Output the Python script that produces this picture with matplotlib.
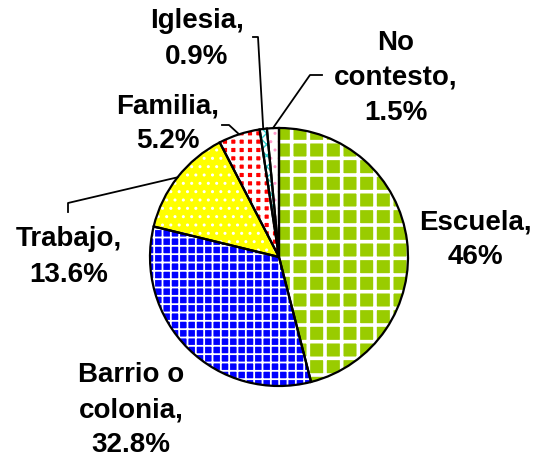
import numpy as np
import matplotlib.pyplot as plt

# datos
categorias = ["Escuela", "Barrio o\ncolonia", "Trabajo", "Familia", "Iglesia", "No\ncontesto"]
porcentajes = [46, 32.8, 13.6, 5.2, 0.9, 1.5]
etiquetas_pct = ["46%", "32.8%", "13.6%", "5.2%", "0.9%", "1.5%"]

fondos = ["#99cc00", "#0000ff", "#ffff00", "#ff0000", "#ffffff", "#ffffff"]
tramas = ["+", "++", "..", "++", "xxx", ".."]
color_trama = ["#ffffff", "#ffffff", "#ffffff", "#ffffff", "#33cccc", "#ff99cc"]
grosor_trama = [2.6, 1.3, 1.0, 3.0, 1.0, 1.0]

W, H = 534, 459
fig = plt.figure(figsize=(W / 100, H / 100), dpi=100)
ax = fig.add_axes([0, 0, 1, 1])
ax.set_xlim(0, W)
ax.set_ylim(0, H)
ax.set_aspect("equal")
ax.axis("off")

centro = (279, H - 257)
radio = 129

# primera pasada: relleno con trama
wedges, _ = ax.pie(porcentajes, colors=fondos, startangle=90, counterclock=False,
                   center=centro, radius=radio, frame=True,
                   wedgeprops=dict(linewidth=0))
for w, tr, ct, gt in zip(wedges, tramas, color_trama, grosor_trama):
    w.set_hatch(tr)
    w.set_edgecolor(ct)
    if hasattr(w, "set_hatch_linewidth"):
        w.set_hatch_linewidth(gt)

# segunda pasada: bordes negros
bordes, _ = ax.pie(porcentajes, colors=["none"] * len(porcentajes), startangle=90,
                   counterclock=False, center=centro, radius=radio, frame=True,
                   wedgeprops=dict(linewidth=1.6, edgecolor="black", fill=False))
ax.set_xlim(0, W)
ax.set_ylim(0, H)
ax.axis("off")


def borde(i, frac=0.5):
    w = bordes[i]
    ang = np.deg2rad(w.theta1 + (w.theta2 - w.theta1) * frac)
    return centro[0] + radio * np.cos(ang), centro[1] + radio * np.sin(ang)


# posiciones de etiquetas (pixeles de imagen)
pos_texto = [(475, 240), (131, 410), (69, 257), (168, 124), (197, 39), (396, 78)]
codos = [None, None, [(68, 212), (68, 203)], [(222, 125), (229, 125)],
         [(253, 37), (258, 37)], [(322, 75), (310, 75)]]

for i, (cat, pct) in enumerate(zip(categorias, etiquetas_pct)):
    x, y = pos_texto[i]
    ax.text(x, H - y, f"{cat},\n{pct}", ha="center", va="center", fontsize=20,
            fontweight="bold", family="Liberation Sans", linespacing=1.45)
    if codos[i] is not None:
        ex, ey = borde(i)
        xs = [p[0] for p in codos[i]] + [ex]
        ys = [H - p[1] for p in codos[i]] + [ey]
        ax.plot(xs, ys, color="black", linewidth=1.3)

fig.savefig("out.png", dpi=100)
